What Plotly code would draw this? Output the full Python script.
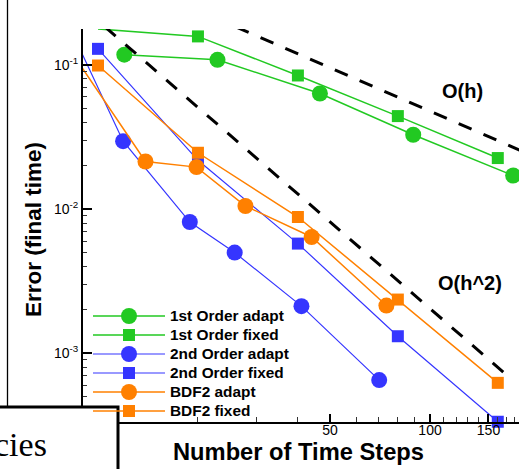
import plotly.graph_objects as go

# ---------------- data ----------------
steps_fixed = [10, 20, 40, 80, 160]

first_adapt_steps = [12.0, 22.9, 46.6, 89.0, 178.0]
first_adapt_err = [0.118, 0.1087, 0.0634, 0.0328, 0.0171]
first_fixed_err = [0.178, 0.158, 0.0846, 0.0442, 0.0226]

second_adapt_steps = [8.93, 11.9, 18.9, 25.8, 41.0, 70.3]
second_adapt_err = [0.1215, 0.0296, 0.00813, 0.00499, 0.00212, 0.00065]
second_fixed_err = [0.1295, 0.0218, 0.00576, 0.00131, 0.000334]

bdf2_adapt_steps = [8.93, 13.9, 19.8, 27.8, 44.0, 73.9]
bdf2_adapt_err = [0.0965, 0.0214, 0.01956, 0.0105, 0.0064, 0.00214]
bdf2_fixed_err = [0.0992, 0.0246, 0.00881, 0.002355, 0.000622]

oh_steps = [26.0, 200.0]
oh_err = [0.184, 0.0239]
oh2_steps = [10.5, 172.0]
oh2_err = [0.184, 0.00069]

series_names = ["1st Order adapt", "1st Order fixed", "2nd Order adapt",
                "2nd Order fixed", "BDF2 adapt", "BDF2 fixed"]

x_tick_vals = [50, 100, 150]
x_tick_text = ["50", "100", "150"]
y_tick_vals = [1e-3, 1e-2, 1e-1]
y_tick_text = ["10<sup>-3</sup>", "10<sup>-2</sup>", "10<sup>-1</sup>"]

# ---------------- styling ----------------
W, H = 519, 469
ML, MR, MT, MB = 83, 0, 29, 47
PW, PH = W - ML - MR, H - MT - MB

GREEN = "#22c922"
BLUE = "#3535ff"
ORANGE = "#ff8000"
SANS = "Liberation Sans, Arial, sans-serif"


def px_x(px):
    return (px - ML) / PW


def px_y(py):
    return (H - MB - py) / PH


fig = go.Figure()


def add(x, y, name, color, symbol, size, width):
    fig.add_trace(go.Scatter(
        x=x, y=y, mode="lines+markers",
        name='<span style="font-size:15.4px">' + name + '</span>',
        line=dict(color=color, width=width),
        marker=dict(color=color, symbol=symbol, size=size),
        cliponaxis=False,
    ))


add(first_adapt_steps, first_adapt_err, series_names[0], GREEN, "circle", 16, 1.5)
add(steps_fixed, first_fixed_err, series_names[1], GREEN, "square", 12, 1.5)
add(second_adapt_steps, second_adapt_err, series_names[2], BLUE, "circle", 16, 1.2)
add(steps_fixed, second_fixed_err, series_names[3], BLUE, "square", 12, 1.2)
add(bdf2_adapt_steps, bdf2_adapt_err, series_names[4], ORANGE, "circle", 16, 1.5)
add(steps_fixed, bdf2_fixed_err, series_names[5], ORANGE, "square", 12, 1.5)

for xs, ys in [(oh_steps, oh_err), (oh2_steps, oh2_err)]:
    fig.add_trace(go.Scatter(
        x=xs, y=ys, mode="lines", showlegend=False,
        line=dict(color="black", width=3, dash="14px,13px"),
        hoverinfo="skip",
    ))

x_minor = [v * 10 for v in range(1, 19) if v * 10 not in x_tick_vals]
y_minor = [k * 10.0 ** e for e in (-4, -3, -2, -1) for k in range(2, 10)]

fig.update_layout(
    width=W, height=H,
    margin=dict(l=ML, r=MR, t=MT, b=MB),
    paper_bgcolor="white", plot_bgcolor="white",
    font=dict(family=SANS, color="black"),
    showlegend=True,
    legend=dict(
        x=px_x(88), y=px_y(301.5), xanchor="left", yanchor="top",
        bgcolor="rgba(0,0,0,0)", itemwidth=72,
        font=dict(size=11.5, weight="bold", family=SANS, color="black"),
        tracegroupgap=0,
    ),
    xaxis=dict(
        type="log", range=[0.9548, 2.268],
        showline=True, linecolor="black", linewidth=2,
        ticks="inside", ticklen=8, tickwidth=1.5, tickcolor="black",
        tickmode="array", tickvals=x_tick_vals, ticktext=x_tick_text,
        tickfont=dict(size=14), ticklabelstandoff=-6,
        minor=dict(tickmode="array", tickvals=x_minor, ticks="inside",
                   ticklen=5, tickwidth=1.2, tickcolor="#333", showgrid=False),
        showgrid=False, zeroline=False,
    ),
    yaxis=dict(
        type="log", range=[-3.478, -0.75],
        showline=True, linecolor="black", linewidth=2,
        ticks="inside", ticklen=9, tickwidth=1.5, tickcolor="black",
        tickmode="array", tickvals=y_tick_vals, ticktext=y_tick_text,
        tickfont=dict(size=14),
        minor=dict(tickmode="array", tickvals=y_minor, ticks="inside",
                   ticklen=4, tickwidth=1.2, tickcolor="#333", showgrid=False),
        showgrid=False, zeroline=False,
    ),
)

bold = dict(family=SANS, weight="bold", color="black")


def label(text, cx, cy, size, angle=0):
    fig.add_annotation(text=text, xref="paper", yref="paper",
                       x=px_x(cx), y=px_y(cy), xanchor="center", yanchor="middle",
                       showarrow=False, textangle=angle,
                       font=dict(size=size, **bold))


label("Number of Time Steps", 298.5, 452, 23.7)
label("Error (final time)", 33.5, 229.5, 22.5, -90)
label("O(h)", 462.5, 91, 20)
label("O(h^2)", 470, 283, 20)

# page frame elements around the chart
fig.add_shape(type="line", xref="paper", yref="paper",
              x0=px_x(7.5), x1=px_x(7.5), y0=px_y(-2), y1=px_y(406),
              line=dict(color="black", width=1.3), layer="above")
fig.add_shape(type="rect", xref="paper", yref="paper",
              x0=px_x(-10), x1=px_x(118), y0=px_y(407), y1=px_y(490),
              line=dict(color="black", width=3), fillcolor="white", layer="above")
fig.add_annotation(text="cies", xref="paper", yref="paper",
                   x=px_x(49), y=px_y(444), xanchor="right", yanchor="middle",
                   showarrow=False,
                   font=dict(size=34, family="Liberation Serif, Times New Roman, serif",
                             color="black"))

fig.write_html("out.html")
